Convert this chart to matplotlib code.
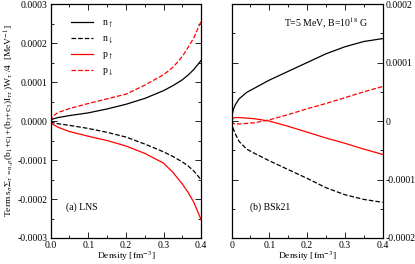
import matplotlib
matplotlib.use('Agg')
import matplotlib.pyplot as plt
from matplotlib.ticker import MultipleLocator, FixedLocator

plt.rcParams['font.family'] = ['Liberation Serif', 'DejaVu Serif']
plt.rcParams['mathtext.fontset'] = 'stix'

# (a) LNS
dens_a = [0, 0.005, 0.02, 0.05, 0.1, 0.15, 0.2, 0.25, 0.3, 0.325, 0.35, 0.365, 0.38, 0.4]
n_up_a = [0, 0.000005, 0.000009, 0.000014, 0.000021, 0.000031, 0.000043, 0.000058,
          0.000078, 0.000091, 0.000106, 0.000118, 0.000132, 0.000156]
n_dn_a = [0, -0.000004, -0.000007, -0.000011, -0.000019, -0.000029, -0.000041, -0.000059,
          -0.000079, -0.000091, -0.000105, -0.000115, -0.000128, -0.000151]
p_up_a = [0, -0.000008, -0.000016, -0.000027, -0.000039, -0.000050, -0.000064, -0.000083,
          -0.000108, -0.000132, -0.000162, -0.000183, -0.000208, -0.000254]
p_dn_a = [0, 0.000012, 0.000022, 0.000032, 0.000045, 0.000057, 0.000069, 0.000092,
          0.000119, 0.000138, 0.000166, 0.000189, 0.000213, 0.000257]

# (b) BSk21
dens_b = [0, 0.002, 0.005, 0.01, 0.02, 0.04, 0.06, 0.1, 0.15, 0.2, 0.25, 0.3, 0.35, 0.4]
n_up_b = [0, 0.000012, 0.000020, 0.000028, 0.000038, 0.000049, 0.000056, 0.000070,
          0.000085, 0.000100, 0.000115, 0.000127, 0.000136, 0.000141]
n_dn_b = [0, -0.000008, -0.000014, -0.000022, -0.000035, -0.000048, -0.000055, -0.000068,
          -0.000083, -0.000098, -0.000114, -0.000126, -0.000134, -0.000139]
p_up_b = [0, 0.000003, 0.000005, 0.000006, 0.000006, 0.000005, 0.000004, 0.0,
          -0.000009, -0.000019, -0.000029, -0.000038, -0.000048, -0.000057]
p_dn_b = [0, -0.000002, -0.000004, -0.000005, -0.000005, -0.000004, -0.000003, 0.000002,
          0.000011, 0.000021, 0.000030, 0.000040, 0.000050, 0.000059]

yt_a = [-0.0003, -0.0002, -0.0001, 0.0, 0.0001, 0.0002, 0.0003]
yl_a = ['-0.0003', '-0.0002', '-0.0001', '0.0000', '0.0001', '0.0002', '0.0003']
yt_b = [-0.0002, -0.0001, 0.0, 0.0001, 0.0002]
yl_b = ['-0.0002', '-0.0001', '0', '0.0001', '0.0002']
xt = [0, 0.1, 0.2, 0.3, 0.4]
xl_a = ['0.0', '0.1', '0.2', '0.3', '0.4']
xl_b = ['0', '0.1', '0.2', '0.3', '0.4']

fs = 7
fig = plt.figure(figsize=(4.15, 2.64), dpi=100)
ax1 = fig.add_axes([0.122, 0.0985, 0.363, 0.886])
ax2 = fig.add_axes([0.558, 0.0985, 0.364, 0.886])

ax1.plot(dens_a, n_up_a, color='black', lw=0.9, label=r'n$_\uparrow$')
ax1.plot(dens_a, n_dn_a, color='black', lw=0.9, ls='--', label=r'n$_\downarrow$')
ax1.plot(dens_a, p_up_a, color='red', lw=0.9, label=r'p$_\uparrow$')
ax1.plot(dens_a, p_dn_a, color='red', lw=0.9, ls='--', label=r'p$_\downarrow$')

ax2.plot(dens_b, n_up_b, color='black', lw=0.9)
ax2.plot(dens_b, n_dn_b, color='black', lw=0.9, ls='--')
ax2.plot(dens_b, p_up_b, color='red', lw=0.9)
ax2.plot(dens_b, p_dn_b, color='red', lw=0.9, ls='--')

for ax in (ax1, ax2):
    ax.set_xlim(0, 0.4)
    ax.xaxis.set_major_locator(FixedLocator(xt))
    ax.xaxis.set_minor_locator(MultipleLocator(0.05))
    ax.yaxis.set_minor_locator(MultipleLocator(0.00005))
    ax.tick_params(which='both', direction='in', top=True, right=True, left=True,
                   labelsize=fs, pad=2)
    ax.tick_params(which='major', length=4, width=0.6)
    ax.tick_params(which='minor', length=2, width=0.6)
    for s in ax.spines.values():
        s.set_linewidth(0.9)
    ax.set_xlabel(r'Density [fm$^{-3}$]', fontsize=6.8, labelpad=0)

ax1.set_ylim(-0.0003, 0.0003)
ax1.set_yticks(yt_a)
ax1.set_yticklabels(yl_a)
ax1.set_xticklabels(xl_a)
ax1.set_ylabel(r"Term s$_\sigma\Sigma_{\tau'=n,p}$(b$_1$+c$_1$+(b$_3$+c$_3$)I$_{\tau\tau'}$)W$_{\tau'}$/4  [MeV$^{-1}$]",
               fontsize=6.8, labelpad=1)
ax1.legend(loc='upper left', bbox_to_anchor=(0.08, 0.975), frameon=False, fontsize=fs,
           handlelength=2.2, labelspacing=0.45, handletextpad=0.9)
ax1.text(0.1, 0.12, '(a) LNS', transform=ax1.transAxes, fontsize=fs)

ax2.set_ylim(-0.0002, 0.0002)
ax2.set_yticks(yt_b)
ax2.set_yticklabels(yl_b)
ax2.set_xticklabels(xl_b)
ax2.yaxis.tick_right()
ax2.tick_params(which='both', left=True, right=True, labelleft=False, labelright=True)
ax2.text(0.35, 0.9, r'T=5 MeV, B=10$^{18}$ G', transform=ax2.transAxes, fontsize=fs)
ax2.text(0.12, 0.12, '(b) BSk21', transform=ax2.transAxes, fontsize=fs)

fig.savefig('out.png', dpi=100)
